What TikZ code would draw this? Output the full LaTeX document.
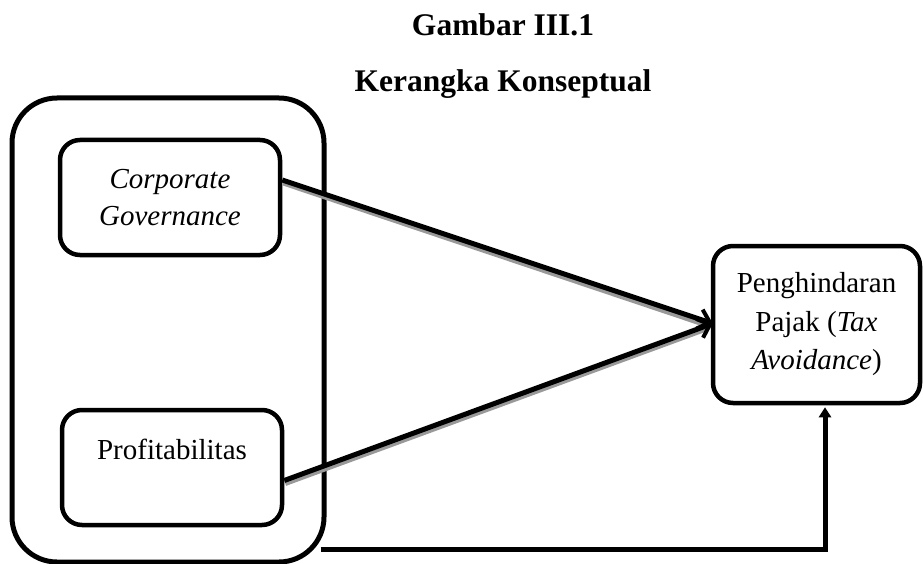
\documentclass[tikz,border=0pt]{standalone}
\usepackage{fontspec}
\setmainfont{Liberation Serif}
\usetikzlibrary{arrows.meta,calc}
\begin{document}
\begin{tikzpicture}[x=1pt,y=-1pt,
  box/.style={draw=black, line width=4.5pt, rounded corners=20pt, align=center,
    inner sep=0pt, font=\fontsize{29}{38.5}\selectfont},
  grpbox/.style={draw=black, line width=5pt, rounded corners=45pt, inner sep=0pt},
  conn/.style={line width=5pt, -{Straight Barb[length=11pt,width=20pt,line width=4pt]}},
  shadowline/.style={line width=5pt, draw=black!40},
  ttl/.style={font=\fontsize{31.5}{38}\selectfont\bfseries, inner sep=0pt, anchor=base}]
\useasboundingbox (0,0) rectangle (923,564);
% title
\node[ttl] (t1) at (503,36) {Gambar III.1};
\node[ttl] (t2) at (503,92) {Kerangka Konseptual};
% group box
\node[grpbox, minimum width=312pt, minimum height=464pt] (grp) at (168,330) {};
% boxes
\node[box, minimum width=220pt, minimum height=115pt] (cg) at (170,197.5)
  {\itshape Corporate\\[-1pt]\itshape Governance};
\node[box, minimum width=220pt, minimum height=115pt, text depth=36pt] (prof) at (172,467.5)
  {Profitabilitas};
\node[box, minimum width=207pt, minimum height=157pt] (ph) at (816.5,324.5)
  {Penghindaran\\Pajak (\textit{Tax}\\\textit{Avoidance})};
% connector points
\coordinate (cgout) at ($(cg.east)+(0,-17.5)$);
\coordinate (profout) at ($(prof.east)+(0,13)$);
\coordinate (phin) at ($(ph.west)+(2,-1)$);
% shadows
\draw[shadowline] ($(cgout)+(1,3)$) -- ($(phin)+(-8,1)$);
\draw[shadowline] ($(profout)+(1,3)$) -- ($(phin)+(-8,6)$);
% arrows
\draw[conn] (cgout) -- (phin);
\draw[conn] (profout) -- (phin);
% bottom connector
\coordinate (bstart) at ($(grp.south east)+(-6,-15)$);
\coordinate (bend) at ($(ph.south)+(8.5,2)$);
\draw[line width=5pt, -{Triangle[length=10pt,width=12pt]}] (bstart) -| (bend);
\end{tikzpicture}
\end{document}
